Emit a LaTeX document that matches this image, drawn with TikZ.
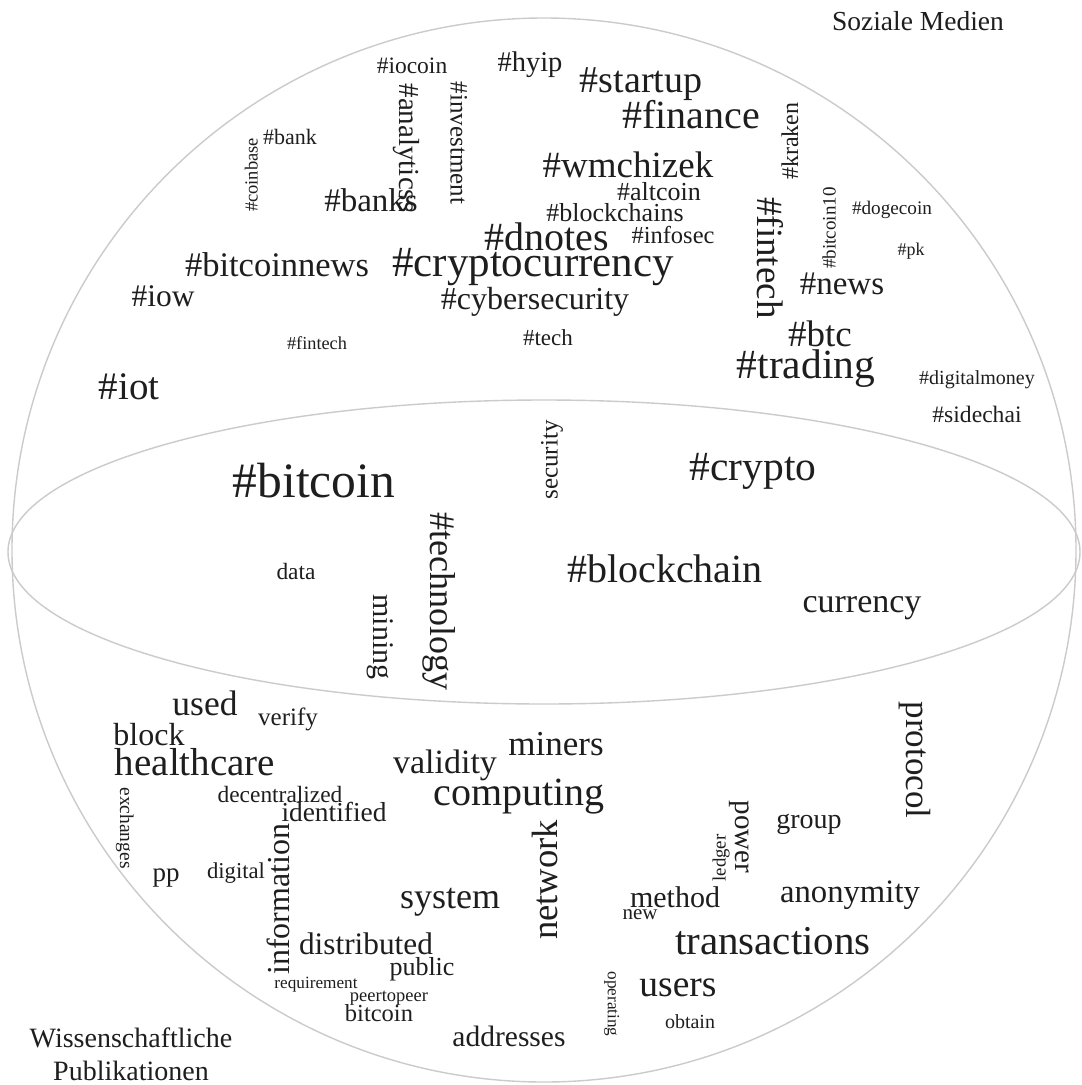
\documentclass[tikz,border=0pt]{standalone}
\usepackage{fontspec}
\setmainfont{Liberation Serif}
\definecolor{rimgray}{HTML}{CBCBCB}
\definecolor{ink}{HTML}{1E1E1E}
\tikzset{
  wd/.style={font=\fontsize{#1}{#1}\selectfont, inner sep=0pt, text=ink,
    execute at begin node={\rule[-0.25em]{0pt}{1.1em}}},
  rim/.style={draw=rimgray, line width=1.4pt},
  up/.style={rotate=90},
  down/.style={rotate=-90}
}
\begin{document}
\begin{tikzpicture}[x=1pt,y=-1pt]
\useasboundingbox (0,0) rectangle (1082,1085);
\fill[white] (0,0) rectangle (1082,1085);
% sphere outline and equator
\draw[rim] (544,550) circle [radius=532];
\draw[rim] (544,552) ellipse [x radius=536, y radius=152];

% ---------- Soziale Medien ----------
\node[wd=27.5] (soz) at (918,22) {Soziale Medien};
\node[wd=23.5] (iocoin) at (412,66) {\#iocoin};
\node[wd=28.5] (hyip) at (530,63) {\#hyip};
\node[wd=38] (startup) at (641,81) {\#startup};
\node[wd=40] (finance) at (691,116) {\#finance};
\node[wd=29,down] (analyticss) at (408,148) {\#analyticss};
\node[wd=25,down] (investment) at (458,143) {\#investment};
\node[wd=18.5,up] (coinbase) at (252,175) {\#coinbase};
\node[wd=22] (bank) at (290,138) {\#bank};
\node[wd=33] (banks) at (371,202) {\#banks};
\node[wd=37] (wmchizek) at (628,166) {\#wmchizek};
\node[wd=26] (altcoin) at (659,193) {\#altcoin};
\node[wd=26] (blockchains) at (615,214) {\#blockchains};
\node[wd=40] (dnotes) at (547,238) {\#dnotes};
\node[wd=24.5] (infosec) at (673,236) {\#infosec};
\node[wd=43] (cryptocurrency) at (533,264) {\#cryptocurrency};
\node[wd=32] (cybersecurity) at (535,300) {\#cybersecurity};
\node[wd=34.5] (bitcoinnews) at (277,266) {\#bitcoinnews};
\node[wd=31.5] (iow) at (163,297) {\#iow};
\node[wd=18.3] (fintechs) at (317,344) {\#fintech};
\node[wd=23] (tech) at (548,339) {\#tech};
\node[wd=39] (iot) at (129,388) {\#iot};
\node[wd=37,down] (fintechb) at (769,258) {\#fintech};
\node[wd=24,up] (kraken) at (791,141) {\#kraken};
\node[wd=19,up] (bitcointen) at (830,228) {\#bitcoin10};
\node[wd=19.2] (dogecoin) at (892,209) {\#dogecoin};
\node[wd=18] (pk) at (911,250) {\#pk};
\node[wd=33] (news) at (842,285) {\#news};
\node[wd=37] (btc) at (820,335) {\#btc};
\node[wd=41.5] (trading) at (806,366) {\#trading};
\node[wd=20] (digitalmoney) at (977,378) {\#digitalmoney};
\node[wd=23.6] (sidechai) at (977,415) {\#sidechai};

% ---------- Equator ----------
\node[wd=49.5] (bitcoinh) at (314,483) {\#bitcoin};
\node[wd=41.5] (crypto) at (753,468) {\#crypto};
\node[wd=25,up] (security) at (550,460) {security};
\node[wd=36,down] (technology) at (441,601) {\#technology};
\node[wd=30,down] (mining) at (382,637) {mining};
\node[wd=23.4] (data) at (296,572) {data};
\node[wd=40] (blockchain) at (665,570) {\#blockchain};
\node[wd=34] (currency) at (862,602) {currency};

% ---------- Wissenschaftliche Publikationen ----------
\node[wd=35.5] (used) at (205,705) {used};
\node[wd=25] (verify) at (288,718) {verify};
\node[wd=32] (block) at (149,736) {block};
\node[wd=39] (healthcare) at (195,764) {healthcare};
\node[wd=19.5,down] (exchanges) at (126,828) {exchanges};
\node[wd=23.4] (decentralized) at (280,795) {decentralized};
\node[wd=27.4] (identified) at (334,813) {identified};
\node[wd=27] (pp) at (166,873) {pp};
\node[wd=22.7] (digital) at (236,872) {digital};
\node[wd=32,up] (information) at (280,899) {information};
\node[wd=36] (system) at (450,898) {system};
\node[wd=31.3] (distributed) at (366,945) {distributed};
\node[wd=26] (public) at (422,968) {public};
\node[wd=17.2] (requirement) at (316,983) {requirement};
\node[wd=18.5] (peertopeer) at (389,996) {peertopeer};
\node[wd=24.5] (bitcoinl) at (379,1014) {bitcoin};
\node[wd=29.5] (addresses) at (509,1038) {addresses};
\node[wd=34] (validity) at (445,763) {validity};
\node[wd=35] (miners) at (556,745) {miners};
\node[wd=40] (computing) at (519,793) {computing};
\node[wd=36.6,up] (network) at (547,880) {network};
\node[wd=29,down] (power) at (744,837) {power};
\node[wd=18.8,up] (ledger) at (720,858) {ledger};
\node[wd=28] (group) at (809,820) {group};
\node[wd=35,down] (protocol) at (917,760) {protocol};
\node[wd=30] (method) at (675,898) {method};
\node[wd=21] (new) at (640,913) {new};
\node[wd=32.7] (anonymity) at (850,893) {anonymity};
\node[wd=41] (transactions) at (773,942) {transactions};
\node[wd=37.5] (users) at (678,985) {users};
\node[wd=17.2,down] (operating) at (613,1004) {operating};
\node[wd=20] (obtain) at (690,1022) {obtain};
\node[font=\fontsize{28}{33}\selectfont, inner sep=0pt, align=center, text=ink] (wp) at (131,1054) {Wissenschaftliche\\Publikationen};
\end{tikzpicture}
\end{document}
